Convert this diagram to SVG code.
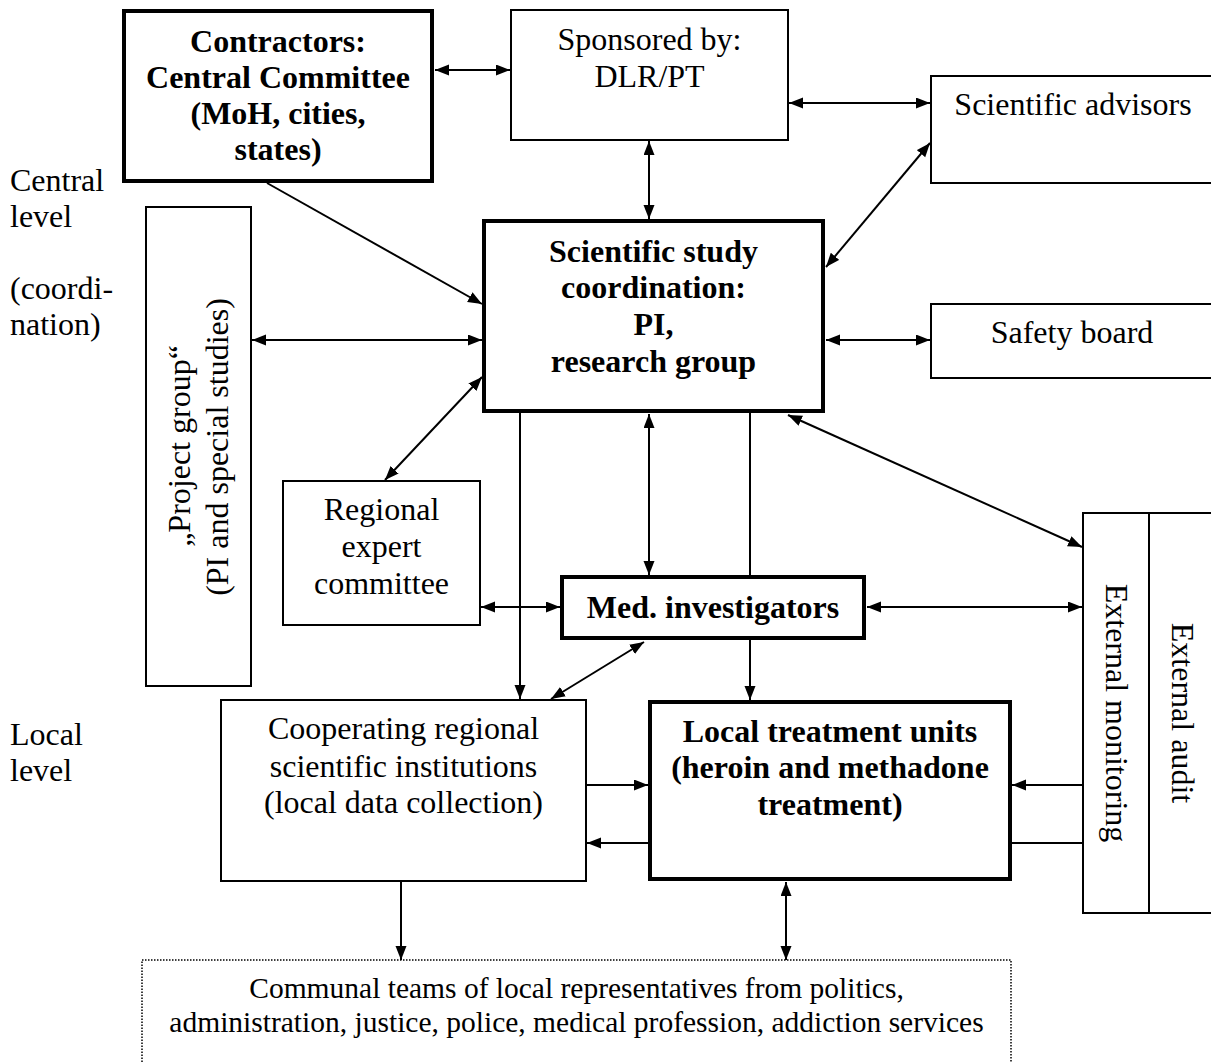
<svg xmlns="http://www.w3.org/2000/svg" width="1211" height="1063" viewBox="0 0 1211 1063">
<style>
text{font-family:"Liberation Serif","Times New Roman",serif;font-size:32px;fill:#000}
.b{font-weight:bold}
.c{text-anchor:middle}
.box{fill:#fff;stroke:#000;stroke-width:2}
.thick{fill:#fff;stroke:#000;stroke-width:4}
.dot{fill:#fff;stroke:#000;stroke-width:1.5;stroke-dasharray:1.5 1.5}
.ln{stroke:#000;stroke-width:2;fill:none}
.a2{marker-start:url(#ah);marker-end:url(#ah)}
.a1{marker-end:url(#ah)}
.sm{font-size:29.5px}
</style>
<defs>
<marker id="ah" markerUnits="userSpaceOnUse" markerWidth="15" markerHeight="12" refX="14" refY="5.5" orient="auto-start-reverse">
<path d="M0,0 L14,5.5 L0,11 Z" fill="#000"/>
</marker>
</defs>
<rect width="1211" height="1063" fill="#fff"/>

<g id="levels">
<text x="10" y="191">Central</text>
<text x="10" y="227">level</text>
<text x="10" y="299">(coordi-</text>
<text x="10" y="335">nation)</text>
<text x="10" y="745">Local</text>
<text x="10" y="781">level</text>
</g>

<g id="connectors">
<line class="ln a2" x1="435" y1="70" x2="510" y2="70"/>
<line class="ln a2" x1="789" y1="103" x2="930" y2="103"/>
<line class="ln a2" x1="649" y1="141" x2="649" y2="219"/>
<line class="ln a2" x1="930" y1="143" x2="826" y2="267"/>
<line class="ln a1" x1="267" y1="183" x2="482" y2="304"/>
<line class="ln a2" x1="252" y1="340" x2="482" y2="340"/>
<line class="ln a2" x1="826" y1="340" x2="930" y2="340"/>
<line class="ln a2" x1="482" y1="377" x2="385" y2="480"/>
<line class="ln a1" x1="520" y1="413" x2="520" y2="699"/>
<line class="ln a2" x1="649" y1="414" x2="649" y2="575"/>
<line class="ln" x1="750" y1="413" x2="750" y2="575"/>
<line class="ln a1" x1="750" y1="640" x2="750" y2="700"/>
<line class="ln a2" x1="788" y1="415" x2="1082" y2="547"/>
<line class="ln a2" x1="481" y1="607" x2="560" y2="607"/>
<line class="ln a2" x1="867" y1="607" x2="1082" y2="607"/>
<line class="ln a2" x1="644" y1="642" x2="551" y2="699"/>
<line class="ln a1" x1="587" y1="785" x2="648" y2="785"/>
<line class="ln a1" x1="648" y1="843" x2="587" y2="843"/>
<line class="ln a1" x1="1083" y1="785" x2="1012" y2="785"/>
<line class="ln" x1="1083" y1="843" x2="1012" y2="843"/>
<line class="ln a1" x1="401" y1="882" x2="401" y2="960"/>
<line class="ln a2" x1="786" y1="882" x2="786" y2="960"/>
</g>

<g id="contractors">
<rect class="thick" x="124" y="11" width="308" height="170"/>
<text class="b c" x="278" y="52">Contractors:</text>
<text class="b c" x="278" y="88">Central Committee</text>
<text class="b c" x="278" y="124">(MoH, cities,</text>
<text class="b c" x="278" y="160">states)</text>
</g>

<g id="sponsored">
<rect class="box" x="511" y="10" width="277" height="130"/>
<text class="c" x="649.5" y="50">Sponsored by:</text>
<text class="c" x="649.5" y="87">DLR/PT</text>
</g>

<g id="advisors">
<rect class="box" x="931" y="76" width="290" height="107"/>
<text class="c" x="1073" y="115">Scientific advisors</text>
</g>

<g id="safety">
<rect class="box" x="931" y="304" width="290" height="74"/>
<text class="c" x="1072" y="343">Safety board</text>
</g>

<g id="coordination">
<rect class="thick" x="484" y="221" width="339" height="190"/>
<text class="b c" x="653.5" y="262">Scientific study</text>
<text class="b c" x="653.5" y="298">coordination:</text>
<text class="b c" x="653.5" y="335">PI,</text>
<text class="b c" x="653.5" y="372">research group</text>
</g>

<g id="projectgroup">
<rect class="box" x="146" y="207" width="105" height="479"/>
<text class="c" x="190" y="446" transform="rotate(-90 190 446)">„Project group“</text>
<text class="c" x="228" y="447" transform="rotate(-90 228 447)">(PI and special studies)</text>
</g>

<g id="regional">
<rect class="box" x="283" y="481" width="197" height="144"/>
<text class="c" x="381.5" y="520">Regional</text>
<text class="c" x="381.5" y="557">expert</text>
<text class="c" x="381.5" y="594">committee</text>
</g>

<g id="medinv">
<rect class="thick" x="562" y="577" width="302" height="61"/>
<text class="b c" x="713" y="618">Med. investigators</text>
</g>

<g id="cooperating">
<rect class="box" x="221" y="700" width="365" height="181"/>
<text class="c" x="403.5" y="739">Cooperating regional</text>
<text class="c" x="403.5" y="777">scientific institutions</text>
<text class="c" x="403.5" y="813">(local data collection)</text>
</g>

<g id="localunits">
<rect class="thick" x="650" y="702" width="360" height="177"/>
<text class="b c" x="830" y="742">Local treatment units</text>
<text class="b c" x="830" y="778">(heroin and methadone</text>
<text class="b c" x="830" y="815">treatment)</text>
</g>

<g id="extmonitoring">
<rect class="box" x="1083" y="513" width="66" height="400"/>
<text class="c" x="1106" y="713" transform="rotate(90 1106 713)">External monitoring</text>
</g>

<g id="extaudit">
<rect class="box" x="1149" y="513" width="80" height="400"/>
<text class="c" x="1172" y="713" transform="rotate(90 1172 713)">External audit</text>
</g>

<g id="communal">
<rect class="dot" x="142" y="960" width="869" height="130"/>
<text class="c sm" x="576.5" y="998">Communal teams of local representatives from politics,</text>
<text class="c sm" x="576.5" y="1032">administration, justice, police, medical profession, addiction services</text>
</g>
</svg>
